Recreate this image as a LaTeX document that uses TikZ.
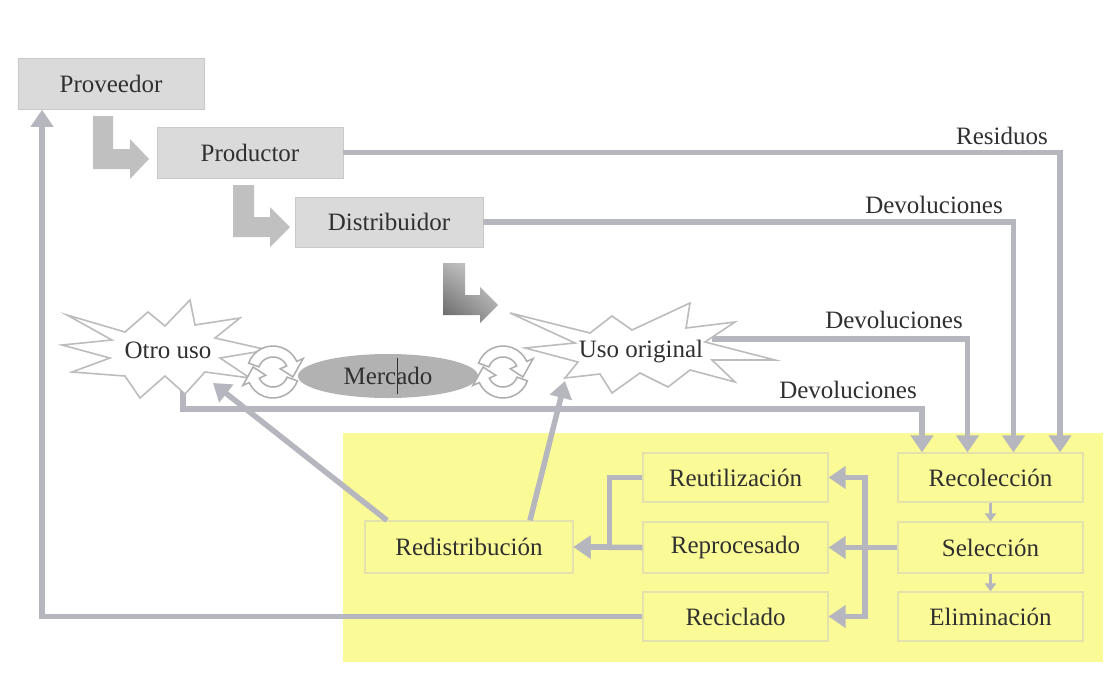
\documentclass[tikz,border=0pt]{standalone}
\usepackage{fontspec}
\setmainfont{Liberation Serif}
\usetikzlibrary{arrows.meta,shapes.geometric,calc,shadings}
\definecolor{boxgray}{RGB}{218,218,218}
\definecolor{conncol}{RGB}{182,182,190}
\definecolor{bgyellow}{RGB}{250,250,150}
\definecolor{lowedge}{RGB}{228,226,172}
\definecolor{txt}{RGB}{48,48,48}
\definecolor{burstedge}{RGB}{188,188,188}
\definecolor{mercfill}{RGB}{178,178,178}
\definecolor{bendfill}{RGB}{192,192,192}

\tikzset{
  topbox/.style={fill=boxgray, draw=boxgray!92!black, line width=0.6pt,
    minimum width=186pt, minimum height=51pt, inner sep=0pt},
  lowbox/.style={fill=bgyellow, draw=lowedge, line width=1.2pt,
    minimum width=185pt, minimum height=49pt, inner sep=0pt},
  lbl/.style={inner sep=0pt},
  conn/.style={draw=conncol, line width=5.5pt},
  connarrow/.style={conn, -{Triangle[length=17pt,width=22pt]}},
  thinconn/.style={draw=conncol, line width=2.5pt, -{Triangle[length=8pt,width=11pt]}},
  burst/.style={fill=white, draw=burstedge, line width=1.6pt, line join=miter},
  bendarrow/.style={fill=bendfill},
  cycband/.style={fill=white, draw=burstedge!92!black, line width=1.5pt, line join=miter},
  cycle icon/.pic={
    \path[cycband] (160:26pt) arc[start angle=160, end angle=24, radius=26pt]
      -- (24:33pt) -- (-14:20.5pt) -- (24:8pt) -- (24:15pt)
      arc[start angle=24, end angle=160, radius=15pt] -- cycle;
    \path[cycband, rotate=180] (160:26pt) arc[start angle=160, end angle=24, radius=26pt]
      -- (24:33pt) -- (-14:20.5pt) -- (24:8pt) -- (24:15pt)
      arc[start angle=24, end angle=160, radius=15pt] -- cycle;
  }
}

\begin{document}
\begin{tikzpicture}[x=1pt, y=-1pt, font=\fontsize{25}{30}\selectfont, text=txt]
\useasboundingbox (0,0) rectangle (1105,675);
\fill[white] (0,0) rectangle (1105,675);

% recovery area
\fill[bgyellow] (343,433) rectangle (1103,662);

% boxes of the forward chain
\node[topbox] (prov) at (111,84) {Proveedor};
\node[topbox] (prod) at (250,152.5) {Productor};
\node[topbox, minimum width=188pt, minimum height=50pt] (dist) at (389,222) {Distribuidor};

% boxes of the reverse chain
\node[lowbox, minimum width=208pt, minimum height=52pt] (redis) at (469,547) {Redistribución};
\node[lowbox] (reut)  at (735.5,477.5) {Reutilización};
\node[lowbox, minimum height=51pt] (repro) at (735.5,547.5) {Reprocesado};
\node[lowbox] (recic) at (735.5,616.5) {Reciclado};
\node[lowbox] (recol) at (990.5,477.5) {Recolección};
\node[lowbox, minimum height=51pt] (sel)  at (990.5,547.5) {Selección};
\node[lowbox] (elim)  at (990.5,616.5) {Eliminación};

% anchor points on the two bursts
\coordinate (usoR)  at (712,339);
\coordinate (otroB) at (183,388);
\coordinate (otroTurn) at (183,409);
\coordinate (otroA) at (213,383);
\coordinate (usoA)  at (565,381);
\coordinate (hub)   at (865,547.5);

% flows into collection (drawn before the bursts so they start behind them)
\draw[connarrow] (usoR) -| ([xshift=-23pt]recol.north);
\draw[connarrow] (otroB) -- (otroTurn) -| ([xshift=-68.5pt]recol.north);

% bursts
\filldraw[burst] (67,315) -- (125,332) -- (148,312) -- (165,326) -- (190,300)
  -- (195,325) -- (240,318) -- (215,338) -- (268,350) -- (220,358) -- (250,378)
  -- (205,372) -- (185,394) -- (165,376) -- (140,398) -- (125,376) -- (72,372)
  -- (110,358) -- (62,345) -- (112,340) -- cycle;
\filldraw[burst] (510,313) -- (590,333) -- (612,316) -- (632,330) -- (690,303)
  -- (686,328) -- (735,322) -- (705,342) -- (775,360) -- (712,360) -- (735,382)
  -- (690,370) -- (668,387) -- (640,373) -- (612,393) -- (600,374) -- (565,378)
  -- (578,362) -- (525,348) -- (575,343) -- cycle;
\node (otro) at (168,350) {Otro uso};
\node (uso) at (641,352) {Uso original};

% market
\node[ellipse, fill=mercfill, minimum width=180pt, minimum height=44pt, inner sep=0pt]
  (merc) at (388,376) {Mercado};
\draw[txt, line width=0.8pt] (397,358) -- (397,394);
\pic at (273,372) {cycle icon};
\pic at (503,372) {cycle icon};

% bent arrows of the forward chain
\path[bendarrow] (93,116) -- (113,116) -- (113,149) -- (130,149) -- (130,139)
  -- (149,159) -- (130,179) -- (130,169) -- (93,169) -- cycle;
\path[bendarrow] (233,185) -- (254,185) -- (254,217) -- (270,217) -- (270,207)
  -- (290,227) -- (270,247) -- (270,237) -- (233,237) -- cycle;
\shade[upper left=black!30, upper right=black!15, lower left=black!62, lower right=black!38]
  (443,263) -- (465,263) -- (465,295) -- (480,295) -- (480,287) -- (498,305)
  -- (480,323) -- (480,315) -- (443,315) -- cycle;

% flows from producer and distributor
\draw[connarrow] (prod.east) -| ([xshift=69.5pt]recol.north);
\draw[connarrow] (dist.east) -| ([xshift=23pt]recol.north);

% labels on the flows
\node[lbl, anchor=east] (lres)  at (1048,136) {Residuos};
\node[lbl, anchor=east] (ldev1) at (1003,205) {Devoluciones};
\node[lbl, anchor=east] (ldev2) at (963,320) {Devoluciones};
\node[lbl, anchor=east] (ldev3) at (917,390) {Devoluciones};

% inside the recovery area
\draw[thinconn] (recol.south) -- (sel.north);
\draw[thinconn] (sel.south) -- (elim.north);
\draw[connarrow] (sel.west) -- (repro.east);
\draw[connarrow] (hub) |- (reut.east);
\draw[connarrow] (hub) |- (recic.east);
\draw[connarrow] (reut.west) -- ++(-33,0) |- (redis.east);
\draw[connarrow] (repro.west) -- (redis.east);

% back to the market and to the supplier
\draw[connarrow] ([xshift=-82pt]redis.north) -- (otroA);
\draw[connarrow] ([xshift=61pt]redis.north) -- (usoA);
\draw[connarrow] (recic.west) -| ([xshift=-69pt]prov.south);
\end{tikzpicture}
\end{document}
